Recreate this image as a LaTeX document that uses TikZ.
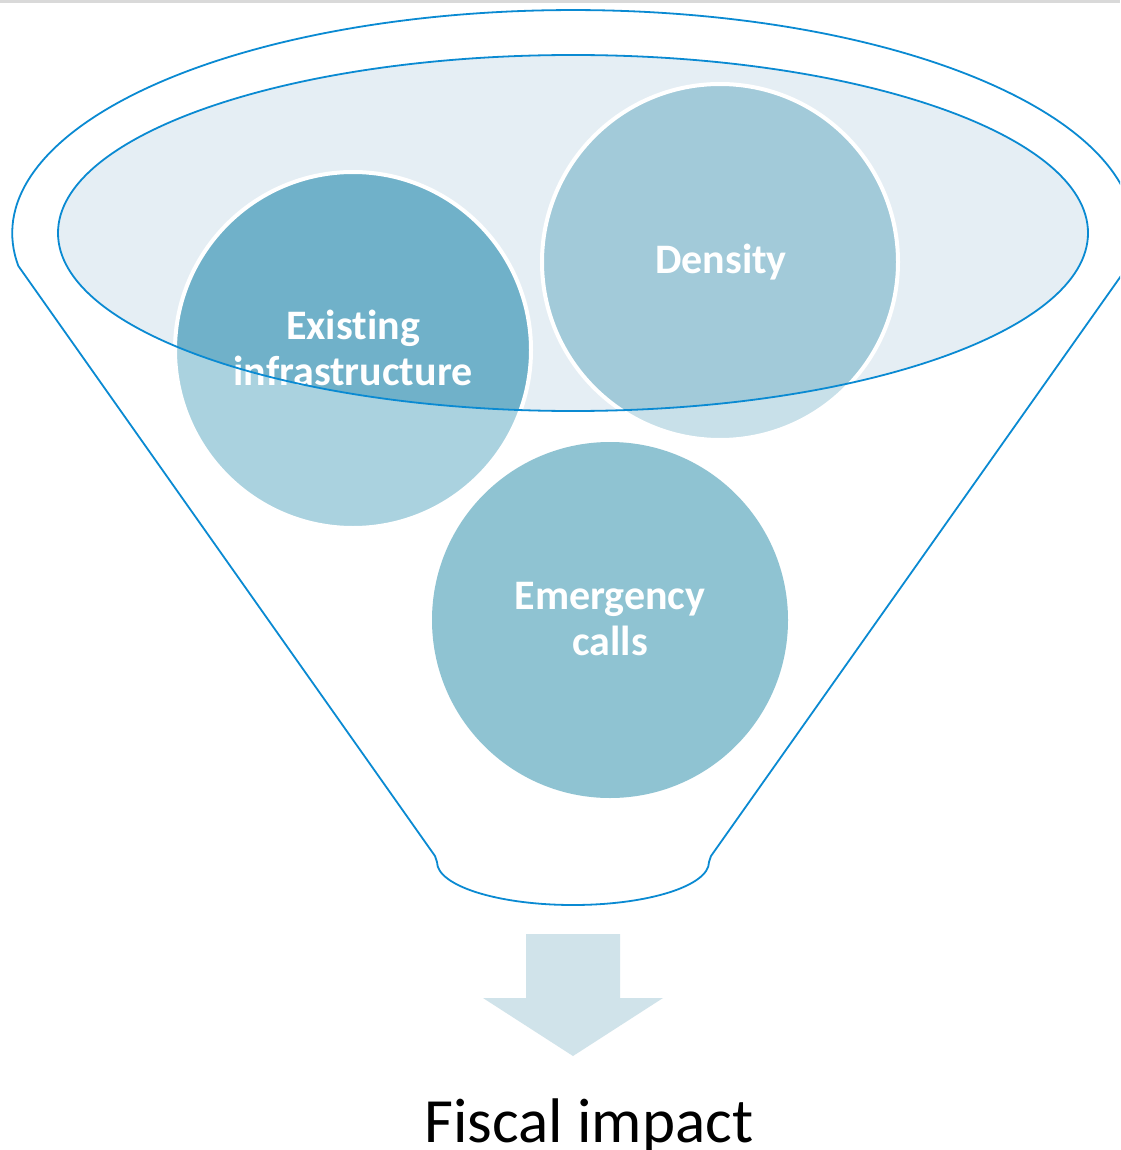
\documentclass[tikz,border=0pt]{standalone}
\usepackage{fontspec}
\setmainfont{Carlito}[Ligatures={NoCommon}]
\definecolor{funnelblue}{HTML}{0A8AD2}
\definecolor{ellfill}{HTML}{E5EEF4}
\definecolor{exdark}{HTML}{70B1C9}
\definecolor{exlight}{HTML}{AAD2DF}
\definecolor{dendark}{HTML}{A2CAD9}
\definecolor{denlight}{HTML}{C8E0E9}
\definecolor{emerg}{HTML}{8FC3D2}
\definecolor{arrowfill}{HTML}{D0E3EA}
\definecolor{topline}{HTML}{D9D9D9}
\tikzset{
  outline/.style={draw=funnelblue, line width=1.8pt},
  bubble/.style={circle, minimum size=356pt, inner sep=0pt, align=center,
    text=white, font=\bfseries\fontsize{42}{46}\selectfont},
  rim/.style={draw=white, line width=4pt},
}
\begin{document}
\begin{tikzpicture}[x=1pt,y=-1pt]
\useasboundingbox (0,0) rectangle (1120,1150);
\clip (0,0) rectangle (1120,1150);
\fill[white] (0,0) rectangle (1120,1150);
\fill[topline] (0,0) rectangle (1120,3);
% funnel body
\draw[outline] (1128,266) arc[start angle=8.5, end angle=-188.5, x radius=561, y radius=223]
  -- (435,856) -- (437,862)
  arc[start angle=180, end angle=0, x radius=136, y radius=43]
  -- (711,856) -- cycle;
% inner ellipse fill
\coordinate (ec) at (573,233);
\fill[ellfill] (ec) ellipse [x radius=515, y radius=178];
% circles
\node[bubble, fill=exlight] (exist) at (353,350) {};
\node[bubble, fill=denlight] (dens) at (720,262) {};
\node[bubble, fill=emerg] (emer) at (610,620) {};
\begin{scope}
  \clip (ec) ellipse [x radius=515, y radius=178];
  \fill[exdark] (exist.center) circle (178);
  \fill[dendark] (dens.center) circle (178);
\end{scope}
\draw[rim] (exist.center) circle (178);
\draw[rim] (dens.center) circle (178);
% labels
\node[bubble] (existlbl) at (353,348) {Existing\\infrastructure};
\node[bubble] (denslbl) at (721,262) {Density};
\node[bubble] (emerlbl) at (610,619) {Emergency\\calls};
% inner ellipse outline
\draw[outline] (ec) ellipse [x radius=515, y radius=178];
% arrow
\fill[arrowfill] (526,934) -- (620,934) -- (620,998) -- (663,998) -- (573,1056)
  -- (483,998) -- (526,998) -- cycle;
\node[anchor=base, font=\fontsize{63}{70}\selectfont, inner sep=0pt] (fiscal) at (589,1142) {Fiscal impact};
\end{tikzpicture}
\end{document}
